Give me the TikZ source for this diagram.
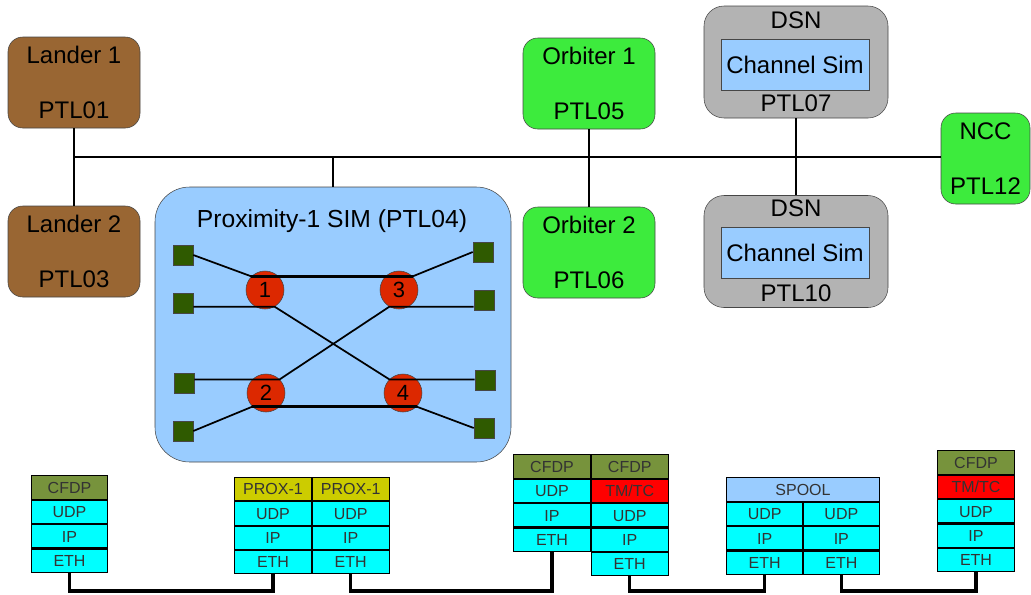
\documentclass[tikz,border=0pt]{standalone}
\usepackage{fontspec}
\setmainfont{Liberation Sans}
\usetikzlibrary{positioning}

\definecolor{lander}{RGB}{153,102,51}
\definecolor{orbiter}{RGB}{61,235,61}
\definecolor{dsngray}{RGB}{179,179,179}
\definecolor{simblue}{RGB}{153,204,255}
\definecolor{cfdpgreen}{RGB}{119,147,60}
\definecolor{proxyellow}{RGB}{204,204,0}
\definecolor{ipcyan}{RGB}{0,255,255}
\definecolor{tmred}{RGB}{255,0,0}
\definecolor{portgreen}{RGB}{47,90,0}
\definecolor{hubred}{RGB}{220,40,0}
\definecolor{edge}{RGB}{70,70,70}

\tikzset{
  bigtext/.style={font=\fontsize{18}{21}\selectfont, inner sep=0pt},
  unit/.style={draw=edge, rounded corners=11pt, minimum width=99pt,
    minimum height=68.25pt, align=center, inner sep=0pt,
    font=\fontsize{18}{21}\selectfont},
  dsnbox/.style={draw=edge, fill=dsngray, rounded corners=15pt,
    minimum width=138pt, minimum height=84pt},
  chanbox/.style={draw=edge, fill=simblue, minimum width=111pt,
    minimum height=38.25pt, inner sep=0pt, font=\fontsize{18}{21}\selectfont},
  simbox/.style={draw=edge, fill=simblue, rounded corners=26pt,
    minimum width=267pt, minimum height=206.25pt},
  hub/.style={circle, draw=edge, fill=hubred, minimum size=28.5pt,
    inner sep=0pt, font=\fontsize{16.5}{19}\selectfont},
  port/.style={draw=edge, fill=portgreen, minimum size=15pt, inner sep=0pt},
  link/.style={line width=1.3pt},
  trunk/.style={line width=2pt},
  bus/.style={line width=2.2pt},
  wire/.style={line width=2.6pt},
  layer/.style={draw=black, line width=0.8pt, fill=ipcyan, minimum width=57.5pt,
    minimum height=17.5pt, inner sep=0pt, text height=8.6pt, text depth=0pt,
    font=\fontsize{12}{14}\selectfont, text=black!80}
}

\begin{document}
\begin{tikzpicture}[x=0.75pt,y=-0.75pt]
  \useasboundingbox (0,0) rectangle (1031,594);

  % Landers:
  \node[unit, fill=lander] (lander1) at (74,82.5) {Lander 1\\[20pt]PTL01};
  \node[unit, fill=lander] (lander2) at (74,251.5) {Lander 2\\[20pt]PTL03};

  % Orbiters:
  \node[unit, fill=orbiter] (orbiter1) at (589,83.5) {Orbiter 1\\[20pt]PTL05};
  \node[unit, fill=orbiter] (orbiter2) at (589,252.5) {Orbiter 2\\[20pt]PTL06};

  % NCC:
  \node[unit, fill=orbiter, minimum width=66.75pt] (ncc) at (985.5,158.5) {NCC\\[20pt]PTL12};

  % DSN stations:
  \node[dsnbox] (dsn1) at (796,62) {};
  \node[bigtext] (dsn1name) at (796,20) {DSN};
  \node[chanbox] (chan1) at (795,64.5) {Channel Sim};
  \node[bigtext] (dsn1id) at (796,103.5) {PTL07};

  \node[dsnbox] (dsn2) at (796,251.5) {};
  \node[bigtext] (dsn2name) at (796,208.5) {DSN};
  \node[chanbox] (chan2) at (795,253) {Channel Sim};
  \node[bigtext] (dsn2id) at (796,293.5) {PTL10};

  % Proximity-1 simulator:
  \node[simbox] (prox) at (333,324.5) {};
  \node[anchor=base, font=\fontsize{18.5}{22}\selectfont, inner sep=0pt] (proxname)
    at (332,227) {Proximity-1 SIM (PTL04)};

  \node[port] (p1) at (183,255) {};
  \node[port] (p2) at (183,303) {};
  \node[port] (p3) at (184,383) {};
  \node[port] (p4) at (183,431) {};
  \node[port] (p5) at (483,252) {};
  \node[port] (p6) at (484,300) {};
  \node[port] (p7) at (485,380) {};
  \node[port] (p8) at (484,428) {};

  \node[hub] (h1) at (265,290) {1};
  \node[hub] (h3) at (399,290) {3};
  \node[hub] (h2) at (266,393) {2};
  \node[hub] (h4) at (403,393) {4};

  \draw[link] (p1.east) -- (h1.135);
  \draw[trunk] (h1.135) -- (h3.45);
  \draw[link] (h3.45) -- (p5.west);
  \draw[link] (h1.-60 -| p2.east) -- (h1.-60) -- (h4.135) -- (h4.135 -| p7.west);
  \draw[link] (h3.-120 -| p6.west) -- (h3.-120) -- (h2.45) -- (h2.45 -| p3.east);
  \draw[link] (p4.east) -- (h2.-135);
  \draw[trunk] (h2.-135) -- (h4.-45);
  \draw[link] (h4.-45) -- (p8.west);

  % Network bus:
  \coordinate (busleft) at (74,157);
  \draw[bus] (busleft) -- (busleft -| ncc.west);
  \draw[bus] (lander1.south) -- (lander2.north);
  \draw[bus] (orbiter1.south) -- (orbiter2.north);
  \draw[bus] (dsn1.south) -- (dsn2.north);
  \draw[bus] (prox.north |- busleft) -- (prox.north);

  % Protocol stacks:
  \node[layer, fill=cfdpgreen] (a1) at (69.5,487.5) {CFDP};
  \node[layer, below=0pt of a1] (a2) {UDP};
  \node[layer, below=0pt of a2] (a3) {IP};
  \node[layer, below=0pt of a3] (a4) {ETH};

  \node[layer, fill=proxyellow] (b1) at (273,489) {PROX-1};
  \node[layer, below=0pt of b1] (b2) {UDP};
  \node[layer, below=0pt of b2] (b3) {IP};
  \node[layer, below=0pt of b3] (b4) {ETH};
  \node[layer, fill=proxyellow, right=0pt of b1] (b5) {PROX-1};
  \node[layer, below=0pt of b5] (b6) {UDP};
  \node[layer, below=0pt of b6] (b7) {IP};
  \node[layer, below=0pt of b7] (b8) {ETH};

  \node[layer, fill=cfdpgreen] (c1) at (552,466.5) {CFDP};
  \node[layer, below=0pt of c1] (c2) {UDP};
  \node[layer, below=0pt of c2] (c3) {IP};
  \node[layer, below=0pt of c3] (c4) {ETH};
  \node[layer, fill=cfdpgreen, right=0pt of c1] (c5) {CFDP};
  \node[layer, fill=tmred, below=0pt of c5] (c6) {TM/TC};
  \node[layer, below=0pt of c6] (c7) {UDP};
  \node[layer, below=0pt of c7] (c8) {IP};
  \node[layer, below=0pt of c8] (c9) {ETH};

  \node[layer, fill=simblue, minimum width=115pt] (d1) at (803,489.5) {SPOOL};
  \node[layer, anchor=north west] (d2) at (d1.south west) {UDP};
  \node[layer, below=0pt of d2] (d3) {IP};
  \node[layer, below=0pt of d3] (d4) {ETH};
  \node[layer, anchor=north east] (d5) at (d1.south east) {UDP};
  \node[layer, below=0pt of d5] (d6) {IP};
  \node[layer, below=0pt of d6] (d7) {ETH};

  \node[layer, fill=cfdpgreen] (e1) at (976,462.5) {CFDP};
  \node[layer, fill=tmred, below=0pt of e1] (e2) {TM/TC};
  \node[layer, below=0pt of e2] (e3) {UDP};
  \node[layer, below=0pt of e3] (e4) {IP};
  \node[layer, below=0pt of e4] (e5) {ETH};

  % Stack wiring:
  \coordinate (wirey) at (0,591);
  \draw[wire] (a4.south) |- (b4.south |- wirey) -- (b4.south);
  \draw[wire] (b8.south) |- (c4.south |- wirey) -- (c4.south);
  \draw[wire] (c9.south) |- (d4.south |- wirey) -- (d4.south);
  \draw[wire] (d7.south) |- (e5.south |- wirey) -- (e5.south);
\end{tikzpicture}
\end{document}
